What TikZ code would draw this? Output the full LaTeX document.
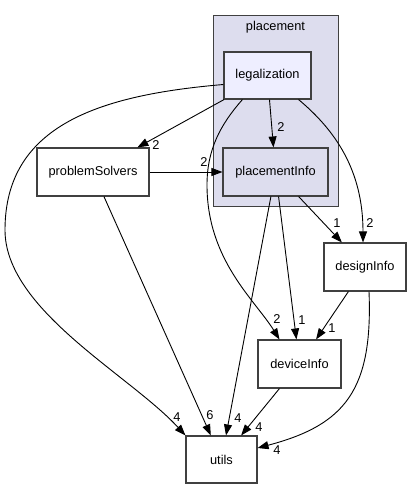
\documentclass[tikz,border=0pt]{standalone}
\usepackage{fontspec}
\setmainfont{Liberation Sans}
\usetikzlibrary{arrows.meta,calc}
\definecolor{clusterfill}{HTML}{DDDDEE}
\definecolor{legfill}{HTML}{EEEEFF}
\definecolor{bordergray}{HTML}{404040}
\begin{document}
\begin{tikzpicture}[x=1pt,y=-1pt,
  dirbox/.style={draw=bordergray,line width=1.1pt,fill=white,inner sep=0pt,
    font=\fontsize{12.8}{15}\selectfont},
  clusterbox/.style={draw=bordergray,line width=0.9pt,fill=clusterfill,inner sep=0pt},
  edge/.style={draw=black,line width=0.9pt,-{Triangle[length=11pt,width=8pt]}},
  elabel/.style={inner sep=0pt,font=\fontsize{12.8}{15}\selectfont}]
\fill[white] (0,0) rectangle (412,489);
\useasboundingbox (0,0) rectangle (412,489);
% cluster
\node[clusterbox,minimum width=125pt,minimum height=191pt] (placement) at (275.5,110.5) {};
\node[inner sep=0pt,font=\fontsize{12.8}{15}\selectfont] (placementlabel) at (275.5,27) {placement};
% nodes
\node[dirbox,fill=legfill,minimum width=87pt,minimum height=47pt] (legalization) at (267.5,75.5) {legalization};
\node[dirbox,fill=clusterfill,minimum width=105pt,minimum height=48pt] (placementInfo) at (275.5,172) {placementInfo};
\node[dirbox,minimum width=112pt,minimum height=48pt] (problemSolvers) at (93,172) {problemSolvers};
\node[dirbox,minimum width=82pt,minimum height=48pt] (designInfo) at (365,267) {designInfo};
\node[dirbox,minimum width=83pt,minimum height=48pt] (deviceInfo) at (299.5,364) {deviceInfo};
\node[dirbox,minimum width=71pt,minimum height=47pt] (utils) at (221.5,459.5) {utils};
% straight edges
\draw[edge] (legalization) -- (placementInfo);
\draw[edge] (legalization) -- (problemSolvers);
\draw[edge] (problemSolvers) -- (placementInfo);
\draw[edge] (problemSolvers) -- (utils);
\draw[edge] (placementInfo) -- (utils);
\draw[edge] (placementInfo) -- (deviceInfo);
\draw[edge] (placementInfo) -- (designInfo);
\draw[edge] (designInfo) -- (deviceInfo);
\draw[edge] (deviceInfo) -- (utils);
% curved edges
\draw[edge] ($(legalization.west)+(0,9)$) .. controls (100,95) and (5,125) .. (5,230)
  .. controls (5,310) and (130,375) .. (utils.north west);
\draw[edge] ($(legalization.south west)+(19,0)$) .. controls (220,125) and (207,150) .. (207,185)
  .. controls (207,260) and (255,300) .. ($(deviceInfo.north west)+(22,0)$);
\draw[edge] ($(legalization.south east)+(-13,0)$) .. controls (335,130) and (363,170) .. ($(designInfo.north)+(-2,0)$);
\draw[edge] ($(designInfo.south)+(4,0)$) .. controls (373,390) and (345,425) .. ($(utils.east)+(0,-11.5)$);
% edge labels
\node[elabel] (lLP) at (281,127) {2};
\node[elabel] (lLS) at (156,145) {2};
\node[elabel] (lSP) at (204,162) {2};
\node[elabel] (lLU) at (177,417) {4};
\node[elabel] (lSU) at (210,415) {6};
\node[elabel] (lPU) at (238,418) {4};
\node[elabel] (lDU) at (259,427) {4};
\node[elabel] (lGU) at (277,450) {4};
\node[elabel] (lLD) at (277,319) {2};
\node[elabel] (lPD) at (302,320) {1};
\node[elabel] (lGD) at (332,328) {1};
\node[elabel] (lPG) at (337,223) {1};
\node[elabel] (lLG) at (370,223) {2};
\end{tikzpicture}
\end{document}
